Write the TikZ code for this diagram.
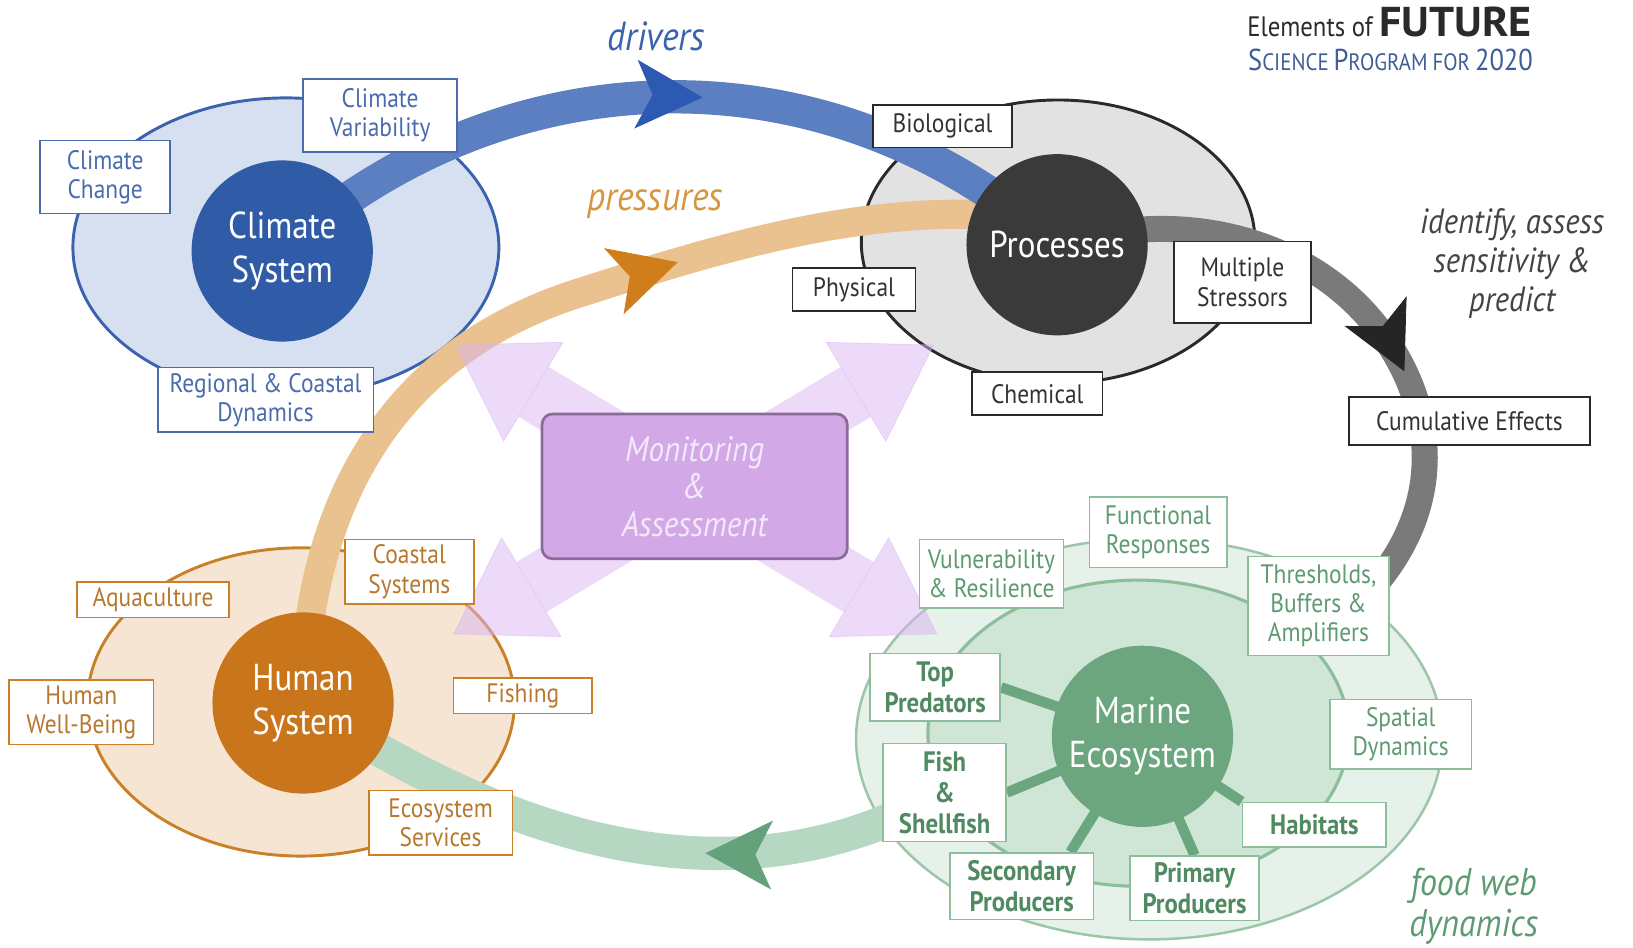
\documentclass[tikz,border=0pt]{standalone}
\usepackage{fontspec}
\setmainfont{PT Sans}[FakeStretch=0.88]
\newfontfamily\widefont{PT Sans}[FakeStretch=1.06]
\usetikzlibrary{arrows.meta,decorations.markings,positioning}

\definecolor{clfill}{HTML}{D7E0F1}
\definecolor{clline}{HTML}{3A62AE}
\definecolor{clblue}{HTML}{2F5BA7}
\definecolor{cltxt}{HTML}{4A6CAE}
\definecolor{prfill}{HTML}{E2E2E2}
\definecolor{prline}{HTML}{2A2A2A}
\definecolor{prdark}{HTML}{3A3A3A}
\definecolor{prtxt}{HTML}{333333}
\definecolor{hmfill}{HTML}{F6E5D2}
\definecolor{hmline}{HTML}{C98026}
\definecolor{hmorange}{HTML}{C9751C}
\definecolor{hmtxt}{HTML}{B7782E}
\definecolor{meouter}{HTML}{E6F1E9}
\definecolor{meoline}{HTML}{9CC6A8}
\definecolor{meinner}{HTML}{CFE5D6}
\definecolor{meiline}{HTML}{8DBE9B}
\definecolor{medisc}{HTML}{6BA67F}
\definecolor{metxt}{HTML}{5E9A72}
\definecolor{mebold}{HTML}{4F8A61}
\definecolor{blueband}{HTML}{5C7FC1}
\definecolor{bluehead}{HTML}{2C59B1}
\definecolor{orband}{HTML}{E9C28F}
\definecolor{orhead}{HTML}{D07D1C}
\definecolor{gyband}{HTML}{7A7A7A}
\definecolor{gyhead}{HTML}{252525}
\definecolor{grband}{HTML}{B6D8C3}
\definecolor{grhead}{HTML}{63A27A}
\definecolor{pinkbase}{HTML}{DBB5F1}
\definecolor{mafill}{HTML}{D2A8E6}
\definecolor{mabord}{HTML}{8C6B9B}
\definecolor{matxt}{HTML}{F4E9FA}
\definecolor{ttldark}{HTML}{2A2A2A}
\definecolor{ttlblue}{HTML}{3D5E96}
\definecolor{drvtxt}{HTML}{3B62AE}
\definecolor{prstxt}{HTML}{D6963F}
\definecolor{idtxt}{HTML}{444444}

\newcommand\scword[2]{{\fontsize{14.5}{15}\selectfont #1}{\fontsize{11.4}{15}\selectfont #2}}

\pgfdeclarelayer{rings}
\pgfdeclarelayer{flows}
\pgfsetlayers{rings,flows,main}

\tikzset{
  sysdisc/.style={circle, minimum size=87pt, inner sep=0pt, text=white, align=center, font=\fontsize{18}{21}\selectfont},
  wh/.style 2 args={minimum width=#1*0.5pt, minimum height=#2*0.5pt},
  tagbox/.style={draw, fill=white, line width=0.8pt, align=center, inner sep=0pt, font=\fontsize{12.8}{14}\selectfont},
  cltag/.style={tagbox, draw=cltxt, text=cltxt},
  prtag/.style={tagbox, draw=prline, text=prtxt},
  hmtag/.style={tagbox, draw=hmline, text=hmtxt},
  metag/.style={tagbox, draw=meiline, text=metxt},
  webtag/.style={metag, text=mebold, font=\bfseries\fontsize{13.5}{14.8}\selectfont},
  flow/.style={line width=#1},
  headat/.style 2 args={postaction={decorate, decoration={markings,
      mark=at position #1 with {\arrow{Stealth[length=32pt, width=33pt, inset=8pt, line width=0.4pt, color=#2]}}}}},
  pinkhead/.tip={Triangle[length=44pt, width=56pt, line width=0.4pt]},
  pinkway/.style={line width=28pt, draw=pinkbase, opacity=0.5, arrows={pinkhead-pinkhead}},
  spoke/.style={line width=5pt, draw=medisc},
  cue/.style={font=\itshape\fontsize{19.5}{21}\selectfont, align=center}
}

\begin{document}
\begin{tikzpicture}[x=0.5pt, y=-0.5pt]
\useasboundingbox (0,0) rectangle (1568,910);

% the four systems
\node[sysdisc, fill=clblue] (clsys) at (271,241) {Climate\\System};
\node[sysdisc, fill=prdark] (prsys) at (1015,235) {Processes};
\node[sysdisc, fill=hmorange] (hmsys) at (291,675) {Human\\System};
\node[sysdisc, fill=medisc] (mesys) at (1097,707) {Marine\\Ecosystem};

% climate tags
\node[cltag, wh={125}{70}] (clchange) at (101,170) {Climate\\Change};
\node[cltag, wh={148}{70}] (clvar) at (365,111) {Climate\\Variability};
\node[cltag, wh={207}{62}] (clreg) at (255,384) {Regional \& Coastal\\Dynamics};

% process tags
\node[prtag, wh={134}{41}] (biol) at (905,121) {Biological};
\node[prtag, wh={118}{41}] (phys) at (820,278) {Physical};
\node[prtag, wh={125}{41}] (chem) at (996,378) {Chemical};
\node[prtag, wh={131}{78}] (multi) at (1193,271) {Multiple\\Stressors};
\node[prtag, wh={231}{46}] (cumul) at (1411,404) {Cumulative Effects};

% human tags
\node[hmtag, wh={146}{34}] (aqua) at (147,576) {Aquaculture};
\node[hmtag, wh={124}{62}] (coast) at (393,549) {Coastal\\Systems};
\node[hmtag, wh={139}{62}] (wellb) at (78,684) {Human\\Well-Being};
\node[hmtag, wh={133}{34}] (fishing) at (502,668) {Fishing};
\node[hmtag, wh={138}{62}] (ecoserv) at (423,790) {Ecosystem\\Services};

% marine tags
\node[metag, wh={138}{66}] (vuln) at (952,551) {Vulnerability\\\& Resilience};
\node[metag, wh={132}{68}] (func) at (1112,511) {Functional\\Responses};
\node[metag, wh={136}{95}] (thresh) at (1266,582) {Thresholds,\\Buffers \&\\Amplifiers};
\node[metag, wh={136}{67}] (spat) at (1345,705) {Spatial\\Dynamics};
\node[webtag, wh={138}{43}] (habit) at (1262,792) {Habitats};
\node[webtag, wh={124}{62}] (prim) at (1147,853) {Primary\\Producers};
\node[webtag, wh={138}{64}] (secnd) at (981,851) {Secondary\\Producers};
\node[webtag, wh={118}{94}] (fishsh) at (907,761) {Fish\\\&\\Shellfish};
\node[webtag, wh={125}{65}] (toppred) at (898,660) {Top\\Predators};

% monitoring
\node[draw=mabord, fill=mafill, line width=1.3pt, rounded corners=5pt, wh={293}{139},
  text=matxt, align=center, font=\itshape\fontsize{17}{18}\selectfont] (monit) at (667,467) {Monitoring\\\&\\Assessment};

% labels
\node[cue, text=drvtxt] (drvlbl) at (630,35) {drivers};
\node[cue, text=prstxt] (prslbl) at (629,196) {pressures};
\node[cue, text=idtxt, font=\itshape\fontsize{16.8}{18.7}\selectfont] (idlbl) at (1452,253) {identify, assess\\sensitivity \&\\predict};
\node[cue, text=metxt, font=\itshape\fontsize{18.5}{20}\selectfont] (fwlbl) at (1415,870) {food web\\dynamics};
\node[anchor=east, text=ttldark, font=\fontsize{13.5}{16}\selectfont] (ttl) at (1478,21) {Elements of {\widefont\bfseries\fontsize{20}{22}\selectfont FUTURE}};
\node[anchor=east, text=ttlblue] (ttlsub) at (1479,58) {\scword{S}{CIENCE} \scword{P}{ROGRAM} \scword{}{FOR} {\fontsize{14.5}{15}\selectfont 2020}};

\begin{pgfonlayer}{rings}
\draw[fill=clfill, draw=clline, line width=1.4pt] (274.5,237.5) ellipse [x radius=204.5, y radius=143.5];
\draw[fill=prfill, draw=prline, line width=1.4pt] (1016,232) ellipse [x radius=189, y radius=136];
\draw[fill=hmfill, draw=hmline, line width=1.4pt] (289,674) ellipse [x radius=205, y radius=148];
\draw[fill=meouter, draw=meoline, line width=1.2pt] (1103.5,709.5) ellipse [x radius=281.5, y radius=192.5];
\draw[fill=meinner, draw=meiline, line width=1.5pt] (1093,704) ellipse [x radius=202, y radius=147];
\end{pgfonlayer}

\begin{pgfonlayer}{flows}
\coordinate (stressend) at (1305,578);
\draw[flow=14pt, draw=orband, shorten >=-14pt, headat={0.68}{orhead}]
  (hmsys.center) .. controls (295,480) and (378,336) .. (560,280)
  .. controls (685,240) and (820,198) .. (prsys.160);
\draw[flow=16pt, draw=blueband, headat={0.54}{bluehead}]
  (clsys.center) .. controls (470,60) and (780,30) .. (prsys.center);
\draw[flow=12.5pt, draw=gyband, headat={0.615}{gyhead}]
  (prsys.center) .. controls (1150,195) and (1255,240) .. (1310,300)
  .. controls (1370,365) and (1405,478) .. (stressend);
\draw[flow=16pt, draw=grband, headat={0.365}{grhead}]
  (fishsh.center) .. controls (700,880) and (480,800) .. (hmsys.center);
% food web spokes
\draw[spoke] (mesys.center) -- (toppred.east);
\draw[spoke] (mesys.center) -- (fishsh.east);
\draw[spoke] (mesys.center) -- (secnd.35);
\draw[spoke] (mesys.center) -- (prim.north);
\draw[spoke] (mesys.center) -- (habit.north west);
% monitoring cross
\coordinate (pkul) at (437,331);
\coordinate (pkur) at (897,331);
\coordinate (pkll) at (435,609);
\coordinate (pklr) at (900,609);
\draw[pinkway] (pkll) -- (pkur);
\draw[pinkway] (pkul) -- (pklr);
\end{pgfonlayer}
\end{tikzpicture}
\end{document}
